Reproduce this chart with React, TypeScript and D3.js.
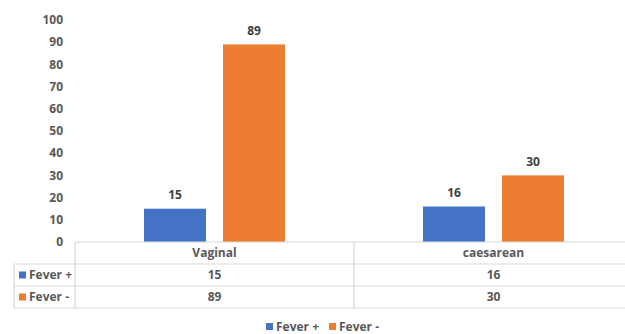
import React from "react";
import * as d3 from "d3";

const categories = ["Vaginal", "caesarean"];
const seriesNames = ["Fever +", "Fever -"];
const feverPlus = [15, 16];
const feverMinus = [89, 30];
const yTicks = [0, 10, 20, 30, 40, 50, 60, 70, 80, 90, 100];
const colors = ["#4472C4", "#ED7D31"];

const W = 625;
const H = 334;
const FONT = "'Open Sans', sans-serif";
const TXT = "#595959";
const GRID = "#d9d9d9";

export default function App() {
  const seriesValues = [feverPlus, feverMinus];
  const left = 75;
  const right = 633;
  const y = d3.scaleLinear().domain([0, 100]).range([242, 20]);
  const x0 = d3.scaleBand<string>().domain(categories).range([left, right]);
  const x1 = d3
    .scaleBand<string>()
    .domain(seriesNames)
    .range([0, x0.bandwidth()])
    .paddingInner(0.215)
    .paddingOuter(0.873);
  const rowTops = [242, 264, 286, 308];
  const tableLeft = 14;

  return (
    <svg
      width={W}
      height={H}
      style={{ position: "absolute", left: 0, top: 0, background: "#fff" }}
      fontFamily={FONT}
    >
      {yTicks.map((t) => (
        <text
          key={t}
          x={63}
          y={y(t)}
          dy="0.35em"
          textAnchor="end"
          fontSize={12}
          fontWeight={700}
          fill={TXT}
        >
          {t}
        </text>
      ))}
      {categories.map((c, ci) =>
        seriesNames.map((s, si) => {
          const v = seriesValues[si][ci];
          const bx = (x0(c) as number) + (x1(s) as number);
          return (
            <g key={c + s}>
              <rect
                x={bx}
                y={y(v)}
                width={x1.bandwidth()}
                height={y(0) - y(v)}
                fill={colors[si]}
              />
              <text
                x={bx + x1.bandwidth() / 2}
                y={y(v) - 14}
                dy="0.35em"
                textAnchor="middle"
                fontSize={12}
                fontWeight={700}
                fill={"#404040"}
              >
                {v}
              </text>
            </g>
          );
        })
      )}
      {/* data table */}
      <g stroke={GRID} strokeWidth={1.2} fill="none">
        <line x1={left} x2={right} y1={rowTops[0]} y2={rowTops[0]} />
        {rowTops.slice(1).map((r) => (
          <line key={r} x1={tableLeft} x2={right} y1={r} y2={r} />
        ))}
        <line x1={left} x2={left} y1={rowTops[0]} y2={rowTops[3]} />
        <line x1={tableLeft} x2={tableLeft} y1={rowTops[1]} y2={rowTops[3]} />
        {categories.slice(1).map((c) => (
          <line
            key={c}
            x1={x0(c) as number}
            x2={x0(c) as number}
            y1={rowTops[0]}
            y2={rowTops[3]}
          />
        ))}
      </g>
      {categories.map((c) => (
        <text
          key={c}
          x={(x0(c) as number) + x0.bandwidth() / 2}
          y={(rowTops[0] + rowTops[1]) / 2}
          dy="0.35em"
          textAnchor="middle"
          fontSize={12}
          fontWeight={700}
          fill={TXT}
        >
          {c}
        </text>
      ))}
      {seriesNames.map((s, si) => (
        <g key={s}>
          <rect
            x={19}
            y={(rowTops[si + 1] + rowTops[si + 2]) / 2 - 3.5}
            width={7}
            height={7}
            fill={colors[si]}
          />
          <text
            x={29}
            y={(rowTops[si + 1] + rowTops[si + 2]) / 2}
            dy="0.35em"
            fontSize={12}
            fontWeight={700}
            fill={TXT}
          >
            {s}
          </text>
          {categories.map((c, ci) => (
            <text
              key={c}
              x={(x0(c) as number) + x0.bandwidth() / 2}
              y={(rowTops[si + 1] + rowTops[si + 2]) / 2}
              dy="0.35em"
              textAnchor="middle"
              fontSize={12}
              fontWeight={700}
              fill={TXT}
            >
              {seriesValues[si][ci]}
            </text>
          ))}
        </g>
      ))}
      {/* legend */}
      {seriesNames.map((s, si) => {
        const lx = [266, 329][si];
        return (
          <g key={s}>
            <rect x={lx} y={323} width={7} height={7} fill={colors[si]} />
            <text
              x={lx + 10}
              y={326.5}
              dy="0.35em"
              fontSize={12}
              fontWeight={700}
              fill={TXT}
            >
              {s}
            </text>
          </g>
        );
      })}
    </svg>
  );
}
